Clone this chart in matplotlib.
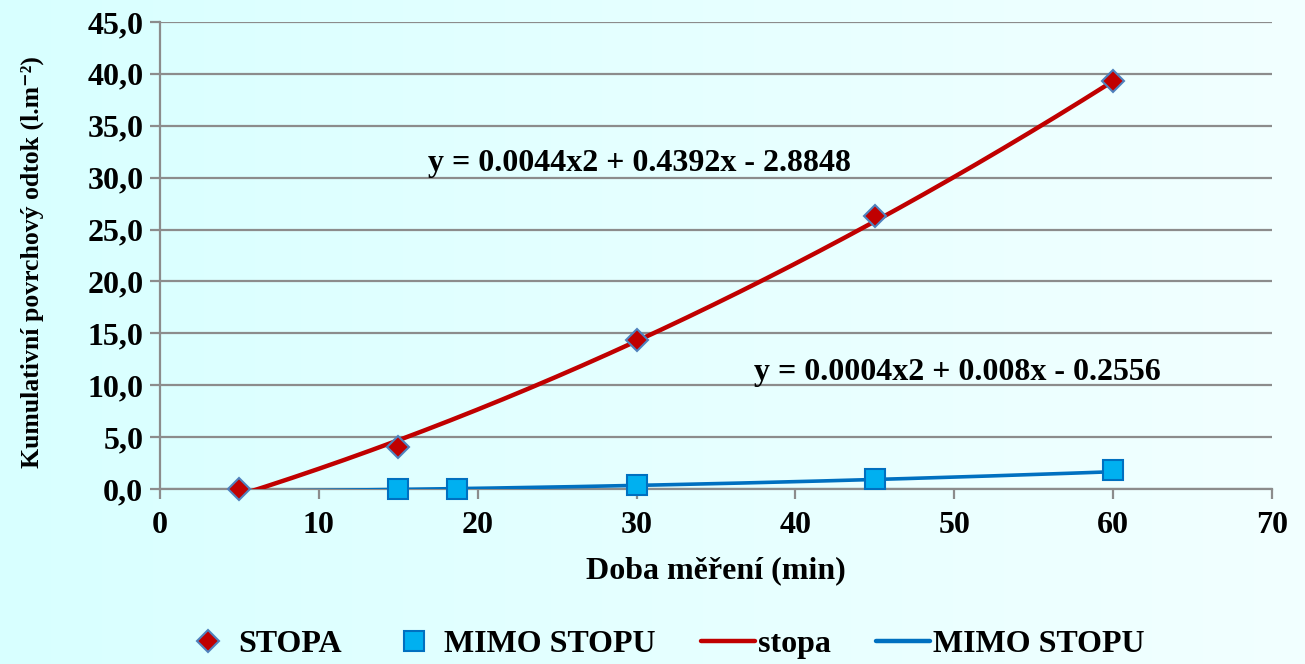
import numpy as np
import matplotlib
matplotlib.use("Agg")
import matplotlib.pyplot as plt
from matplotlib.lines import Line2D

plt.rcParams['font.family'] = ['Liberation Serif', 'DejaVu Serif']
plt.rcParams['font.weight'] = 'bold'

# measured runoff
stopa_x = [5, 15, 30, 45, 60]
stopa_y = [0.0, 4.0, 14.4, 26.3, 39.3]
mimo_x = [15, 18.7, 30, 45, 60]
mimo_y = [0.0, 0.0, 0.4, 1.0, 1.85]

# quadratic trend coefficients (a, b, c)
stopa_fit = [0.0044, 0.4392, -2.8848]
mimo_fit = [0.0004, 0.008, -0.2556]

fig = plt.figure(figsize=(13.05, 6.64), dpi=100)

# light cyan gradient behind everything
bg = fig.add_axes([0, 0, 1, 1], zorder=-1)
grad = np.linspace(0, 1, 256)
c0 = np.array([216, 255, 255]) / 255
c1 = np.array([242, 255, 255]) / 255
img = (c0[None, :] + (c1 - c0)[None, :] * grad[:, None])[None, :, :]
bg.imshow(img, aspect='auto', extent=[0, 1, 0, 1])
bg.axis('off')

ax = fig.add_axes([0.1226, 0.2636, 0.8521, 0.7033])
ax.set_facecolor('none')

xs = np.linspace(5, 60, 200)
ax.plot(xs, np.polyval(stopa_fit, xs), color='#C00000', lw=3.2, zorder=3)
ax.plot(xs, np.polyval(mimo_fit, xs), color='#0070C0', lw=2.6, zorder=3)
ax.plot(stopa_x, stopa_y, ls='none', marker='D', ms=11, mfc='#C00000',
        mec='#4F81BD', mew=1.5, zorder=4, clip_on=False)
ax.plot(mimo_x, mimo_y, ls='none', marker='s', ms=14, mfc='#00B0F0',
        mec='#0070C0', mew=1.5, zorder=4, clip_on=False)

ax.set_xlim(0, 70)
ax.set_ylim(0, 45)
ax.set_xticks(range(0, 71, 10))
ax.set_yticks(np.arange(0, 46, 5))
ax.set_yticklabels([f"{v:.1f}".replace('.', ',') for v in np.arange(0, 46, 5)])
ax.yaxis.grid(True, color='#8C8C8C', lw=1.6)
ax.set_axisbelow(True)
for s in ['top', 'right']:
    ax.spines[s].set_visible(False)
for s in ['left', 'bottom']:
    ax.spines[s].set_color('#8C8C8C')
    ax.spines[s].set_linewidth(1.6)
ax.tick_params(axis='both', colors='#8C8C8C', width=1.6, length=7, labelsize=23,
               labelcolor='black')
ax.tick_params(axis='y', pad=5)
ax.tick_params(axis='x', pad=9)

ax.set_xlabel('Doba měření (min)', fontsize=23, fontweight='bold')
ax.xaxis.set_label_coords(0.5, -0.145)
ax.set_ylabel('Kumulativní povrchový odtok (l.m⁻²)', fontsize=18.5, fontweight='bold')
ax.yaxis.set_label_coords(-0.104, 0.485)

ax.text(16.9, 31.4, 'y = 0.0044x2 + 0.4392x - 2.8848', fontsize=23,
        fontweight='bold', va='center')
ax.text(37.4, 11.2, 'y = 0.0004x2 + 0.008x - 0.2556', fontsize=23,
        fontweight='bold', va='center')

handles = [
    Line2D([], [], ls='none', marker='D', ms=11, mfc='#C00000', mec='#4F81BD', mew=1.5),
    Line2D([], [], ls='none', marker='s', ms=14, mfc='#00B0F0', mec='#0070C0', mew=1.5),
    Line2D([], [], color='#C00000', lw=3.2, solid_capstyle='round'),
    Line2D([], [], color='#0070C0', lw=3.2, solid_capstyle='round'),
]
fig.legend(handles, ['STOPA', 'MIMO STOPU', 'stopa', 'MIMO STOPU'], loc='center',
           bbox_to_anchor=(0.508, 0.03), ncol=4, frameon=False, fontsize=23,
           handlelength=1.7, handletextpad=0.1, columnspacing=1.4)

fig.savefig('out.png', dpi=100)
